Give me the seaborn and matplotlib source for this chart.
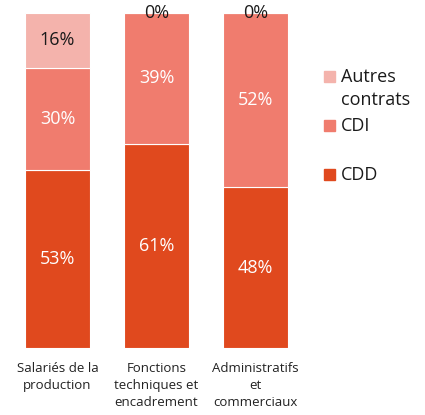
import pandas as pd
import matplotlib.pyplot as plt
import seaborn as sns
from matplotlib.patches import Rectangle

categories = ['Salariés de la\nproduction', 'Fonctions\ntechniques et\nencadrement', 'Administratifs\net\ncommerciaux']
# shares in %, labels are rounded
cdd = [53.2, 61.0, 48.0]
cdi = [30.5, 39.0, 52.0]
autres = [16.3, 0.0, 0.0]

colors = {'CDD': '#E0491E', 'CDI': '#F07C6E', 'Autres contrats': '#F4B3AC'}

sns.set_theme(style='white')
plt.rcParams['font.family'] = ['Open Sans', 'DejaVu Sans']

df = pd.DataFrame({'cat': categories, 'CDD': cdd, 'CDI': cdi, 'Autres contrats': autres})
df['b_cdi'] = df['CDD']
df['b_aut'] = df['CDD'] + df['CDI']

fig = plt.figure(figsize=(4.25, 4.15), dpi=100)
ax = fig.add_axes([8 / 425, 67 / 415, 297 / 425, 335 / 415])

sns.barplot(data=df, x='cat', y='CDD', color=colors['CDD'], width=0.66,
            edgecolor='white', linewidth=0.8, saturation=1, ax=ax)
sns.barplot(data=df, x='cat', y='CDI', bottom=df['b_cdi'], color=colors['CDI'], width=0.66,
            edgecolor='white', linewidth=0.8, saturation=1, ax=ax)
sns.barplot(data=df, x='cat', y='Autres contrats', bottom=df['b_aut'], color=colors['Autres contrats'],
            width=0.66, edgecolor='white', linewidth=0.8, saturation=1, ax=ax)

# segment labels
for i in range(len(df)):
    segs = [(0, cdd[i], 'white'), (cdd[i], cdi[i], 'white'), (cdd[i] + cdi[i], autres[i], '#1a1a1a')]
    for b, v, c in segs:
        if v == 0:
            c = '#1a1a1a'
        ax.text(i, b + v / 2, f'{v:.0f}%', ha='center', va='center', color=c, fontsize=13)

ax.set_xlim(-0.5, 2.5)
ax.set_ylim(0, 100)
ax.set_xlabel('')
ax.set_ylabel('')
ax.set_yticks([])
ax.tick_params(axis='x', length=0, pad=10, labelsize=9.5, labelcolor='#222222')
for t in ax.get_xticklabels():
    t.set_linespacing(1.4)
    t.set_va('top')
sns.despine(ax=ax, left=True, bottom=True)

# legend
leg = [('Autres\ncontrats', colors['Autres contrats'], 77),
       ('CDI', colors['CDI'], 126),
       ('CDD', colors['CDD'], 175)]
for lab, col, yc in leg:
    fig.patches.append(Rectangle((324 / 425, (415 - yc - 5.5) / 415), 11 / 425, 11 / 415,
                                 transform=fig.transFigure, color=col))
    fig.text(341 / 425, (415 - yc + 9) / 415, lab, ha='left', va='top', fontsize=13,
             color='#1a1a1a', linespacing=1.35)

fig.savefig('out.png', dpi=100)
